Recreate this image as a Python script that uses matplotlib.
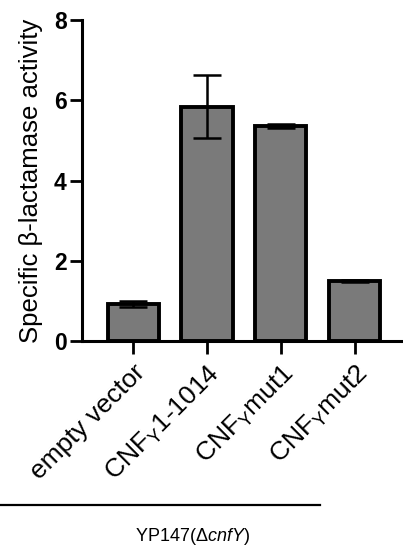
import numpy as np
import matplotlib
matplotlib.use("Agg")
import matplotlib.pyplot as plt
from matplotlib.lines import Line2D

plt.rcParams['font.family'] = ['Liberation Sans', 'DejaVu Sans']
plt.rcParams['mathtext.fontset'] = 'custom'
plt.rcParams['mathtext.rm'] = 'Liberation Sans'
plt.rcParams['mathtext.it'] = 'Liberation Sans:italic'
plt.rcParams['mathtext.bf'] = 'Liberation Sans:bold'

# data
categories = ['empty vector', r'CNF$_\mathrm{Y}$1-1014', r'CNF$_\mathrm{Y}$mut1', r'CNF$_\mathrm{Y}$mut2']
means = [0.92, 5.84, 5.36, 1.50]
errors = [0.07, 0.78, 0.04, 0.03]
yticks = [0, 2, 4, 6, 8]

fig = plt.figure(figsize=(4.03, 5.5), dpi=100)
ax = fig.add_axes([0.2035, 0.38, 0.7965, 0.5836])

x = np.arange(len(categories))
ax.bar(x, means, width=0.69, color='#7a7a7a', edgecolor='black', linewidth=2.8, zorder=2)
ax.errorbar(x, means, yerr=errors, fmt='none', ecolor='black', elinewidth=1.8,
            capsize=10, capthick=1.8, zorder=3)

ax.set_xlim(-0.69, 3.65)
ax.set_ylim(0, 8)
ax.set_yticks(yticks)
ax.set_yticklabels([str(v) for v in yticks], fontsize=16.5, fontweight='bold')
ax.set_xticks(x)
ax.set_xticklabels(categories, rotation=45, ha='right', rotation_mode='anchor', fontsize=19)
ax.set_ylabel('Specific β-lactamase activity', fontsize=18.5, labelpad=8)

for side in ['top', 'right']:
    ax.spines[side].set_visible(False)
for side in ['left', 'bottom']:
    ax.spines[side].set_linewidth(2.2)
ax.tick_params(axis='both', width=2, length=9)
ax.tick_params(axis='y', pad=2)
ax.tick_params(axis='x', pad=5)

# group line and label
fig.add_artist(Line2D([0.0, 0.795], [0.082, 0.082], color='black', linewidth=1.6,
                      transform=fig.transFigure))
fig.text(0.477, 0.024, r'YP147($\Delta$$\it{cnfY}$)', ha='center', va='center', fontsize=13)

fig.savefig('out.png', dpi=100)
